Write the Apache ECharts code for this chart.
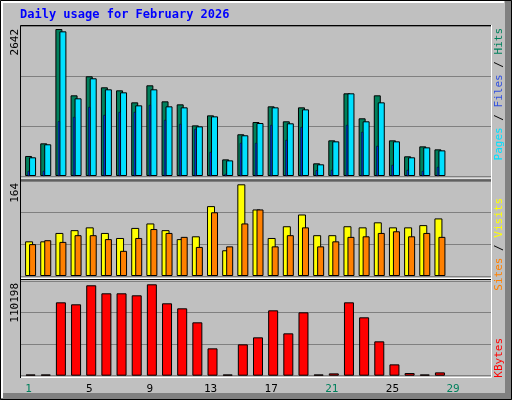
<!DOCTYPE html>
<html><head><meta charset="utf-8">
<script src="https://cdn.jsdelivr.net/npm/echarts@6/dist/echarts.min.js"></script>
<style>html,body{margin:0;padding:0;background:#c0c0c0}#c{width:512px;height:400px}</style>
</head><body><div id="c"></div>
<script>
const days = Array.from({length:31},(_,i)=>String(i+1));
const weekend = ['1','7','8','14','15','21','22','28','29'];
const hits  = [360,587,2642,1450,1792,1594,1540,1324,1630,1342,1288,910,1090,299,750,970,1252,983,1234,228,641,1486,1037,1450,641,354,533,479];
const files = [336,570,2600,1396,1756,1558,1504,1270,1558,1252,1234,892,1072,281,732,952,1234,947,1198,210,623,1486,983,1324,623,336,515,461];
const pages = [90,90,983,1060,1240,1096,1150,1150,1276,1006,934,845,431,36,593,593,916,647,880,102,108,916,791,539,198,108,90,162];
const visits= [62,62,77,82,87,77,68,86,94,82,66,71,125,46,164,119,68,89,110,73,73,89,87,96,87,87,91,103];
const sites = [57,64,61,73,73,66,45,68,84,77,70,52,114,53,94,119,53,73,87,53,62,70,71,77,80,71,77,70];
const kbytes= [1500,1500,88480,86070,109000,99340,99340,96930,110198,87280,81240,64350,32980,1500,37800,46250,78830,51080,76420,1500,2800,88480,70380,41430,13670,3200,1500,4000];
const maxHits=2642, maxVisits=164, maxKB=110198;

const font='DejaVu Sans Mono';
const grids=[{left:21,right:21,top:26,height:150},{left:21,right:21,top:181,height:95},{left:21,right:21,top:281,height:94.7}];
const mk=(g,show)=>({type:'category',data:days,gridIndex:g,boundaryGap:true,axisLine:{show:false},axisTick:{show:false},
  axisLabel:{show:show,margin:8,fontFamily:font,fontSize:11,formatter:v=>weekend.includes(v)?'{g|'+v+'}':'{k|'+v+'}',
  rich:{g:{color:'#00805c',fontFamily:font,fontSize:11},k:{color:'#000',fontFamily:font,fontSize:11}}},splitLine:{show:false}});
const my=(g,M)=>({type:'value',gridIndex:g,min:0,max:M,interval:M/3,axisLabel:{show:false},axisLine:{show:false},axisTick:{show:false},splitLine:{lineStyle:{color:'#808080',width:1}}});
const bs={borderColor:'#000',borderWidth:1};
const chart=echarts.init(document.getElementById('c'),null,{renderer:'canvas'});
chart.setOption({
 backgroundColor:'#c0c0c0',animation:false,
 grid:grids,
 xAxis:[mk(0,false),mk(1,false),mk(2,true),mk(0,false),mk(2,false)],
 yAxis:[my(0,maxHits*150/147),my(1,maxVisits*95/91.7),my(2,maxKB*94.7/91.4)],
 series:[
  {type:'bar',xAxisIndex:0,yAxisIndex:0,data:hits.map(()=>0),barWidth:7,barGap:'-43%',itemStyle:{color:'transparent'},silent:true},
  {type:'bar',xAxisIndex:0,yAxisIndex:0,data:hits,barWidth:7,barGap:'-43%',itemStyle:Object.assign({color:'#00805c'},bs)},
  {type:'bar',xAxisIndex:0,yAxisIndex:0,data:files,barWidth:7,barGap:'-43%',itemStyle:Object.assign({color:'#00e0ff'},bs)},
  {type:'bar',xAxisIndex:3,yAxisIndex:0,data:pages,barWidth:2,z:5,itemStyle:{color:'#0040ff',borderColor:'#000',borderWidth:0.5}},
  {type:'bar',xAxisIndex:1,yAxisIndex:1,data:visits.map(()=>0),barWidth:8,barGap:'-50%',itemStyle:{color:'transparent'},silent:true},
  {type:'bar',xAxisIndex:1,yAxisIndex:1,data:visits,barWidth:8,barGap:'-50%',itemStyle:Object.assign({color:'#ffff00'},bs)},
  {type:'bar',xAxisIndex:1,yAxisIndex:1,data:sites,barWidth:7,barGap:'-50%',itemStyle:Object.assign({color:'#ff8000'},bs)},
  {type:'bar',xAxisIndex:2,yAxisIndex:2,data:kbytes.map(()=>0),barWidth:4,barGap:'0%',itemStyle:{color:'transparent'},silent:true},
  {type:'bar',xAxisIndex:2,yAxisIndex:2,data:kbytes,barWidth:10,barGap:'0%',itemStyle:Object.assign({color:'#ff0000'},bs)}
 ],
 graphic:[
  {type:'rect',shape:{x:505,y:0,width:7,height:400},style:{fill:'#808080'},z:-1},
  {type:'rect',shape:{x:0,y:393,width:512,height:7},style:{fill:'#808080'},z:-1},
  {type:'rect',shape:{x:0.5,y:0.5,width:511,height:399},style:{fill:'none',stroke:'#000',lineWidth:1}},
  {type:'polyline',shape:{points:[[2,398],[2,2],[504,2]]},style:{stroke:'#fff',lineWidth:2,fill:'none'}},
  {type:'polyline',shape:{points:[[20.5,178],[20.5,25.5],[491,25.5]]},style:{stroke:'#000',lineWidth:1,fill:'none'}},
  {type:'polyline',shape:{points:[[491.5,25],[491.5,377.5],[20,377.5]]},style:{stroke:'#fff',lineWidth:1,fill:'none'}},
  {type:'line',shape:{x1:21,y1:179,x2:491,y2:179},style:{stroke:'#fff',lineWidth:1}},
  {type:'line',shape:{x1:21,y1:180,x2:491,y2:180},style:{stroke:'#000',lineWidth:1}},
  {type:'line',shape:{x1:21,y1:278.5,x2:491,y2:278.5},style:{stroke:'#fff',lineWidth:1}},
  {type:'line',shape:{x1:21,y1:279.5,x2:491,y2:279.5},style:{stroke:'#000',lineWidth:1}},
  {type:'line',shape:{x1:20.5,y1:178,x2:20.5,y2:378},style:{stroke:'#000',lineWidth:1}},
  {type:'text',x:20,y:9,style:{text:'Daily usage for February 2026',fill:'#0000ff',font:'bold 12px "'+font+'"'}},
  {type:'text',x:15,y:29,rotation:Math.PI/2,style:{text:'2642',fill:'#000',font:'11px "'+font+'"',align:'right',verticalAlign:'middle'}},
  {type:'text',x:15,y:183,rotation:Math.PI/2,style:{text:'164',fill:'#000',font:'11px "'+font+'"',align:'right',verticalAlign:'middle'}},
  {type:'text',x:15,y:283,rotation:Math.PI/2,style:{text:'110198',fill:'#000',font:'11px "'+font+'"',align:'right',verticalAlign:'middle'}},
  {type:'text',x:499,y:28,rotation:Math.PI/2,style:{text:'{p|Pages}{s| / }{f|Files}{s| / }{h|Hits}',align:'right',verticalAlign:'middle',font:'11px "'+font+'"',
    rich:{p:{fill:'#00e0ff',font:'11px "'+font+'"'},s:{fill:'#000',font:'11px "'+font+'"'},f:{fill:'#3050e0',font:'11px "'+font+'"'},h:{fill:'#00805c',font:'11px "'+font+'"'}}}},
  {type:'text',x:499,y:198,rotation:Math.PI/2,style:{text:'{o|Sites}{s| / }{y|Visits}',align:'right',verticalAlign:'middle',font:'11px "'+font+'"',
    rich:{o:{fill:'#ff8000',font:'11px "'+font+'"'},s:{fill:'#000',font:'11px "'+font+'"'},y:{fill:'#ffff00',font:'11px "'+font+'"'}}}},
  {type:'text',x:499,y:338,rotation:Math.PI/2,style:{text:'KBytes',fill:'#ff0000',font:'11px "'+font+'"',align:'right',verticalAlign:'middle'}}
 ]
});
</script></body></html>
